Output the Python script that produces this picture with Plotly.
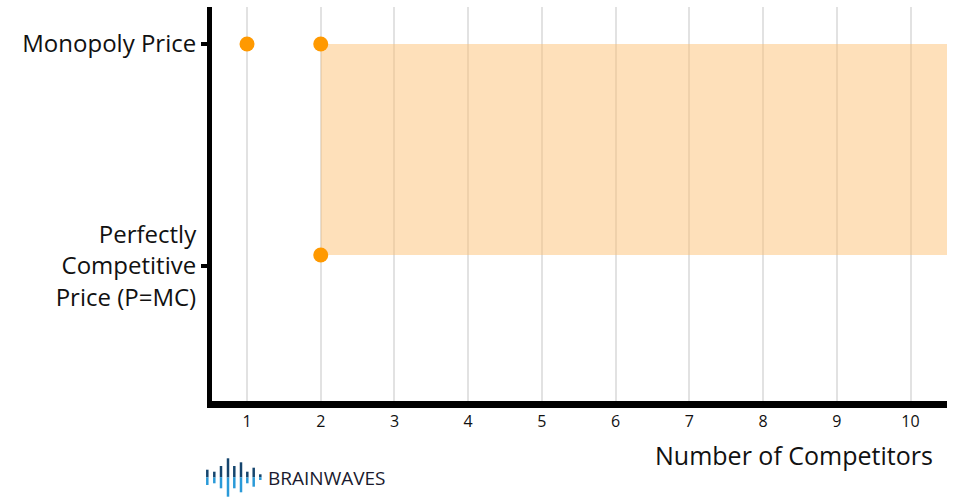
import plotly.graph_objects as go

# ---- data ----
price_levels = [0, 1]
price_labels = ["Perfectly<br>Competitive<br>Price (P=MC)", "Monopoly Price"]
competitor_ticks = [1, 2, 3, 4, 5, 6, 7, 8, 9, 10]
point_competitors = [1, 2, 2]
point_prices = [1, 1, 0.05]
band_competitors = [2, 10.5]
band_top = [1, 1]
band_bottom = [0.05, 0.05]

FONT = "Open Sans"
ORANGE = "#FF9900"

fig = go.Figure()
fig.add_trace(go.Scatter(x=band_competitors, y=band_bottom, mode="lines",
                         line=dict(width=0), hoverinfo="skip", showlegend=False))
fig.add_trace(go.Scatter(x=band_competitors, y=band_top, mode="lines",
                         line=dict(width=0), fill="tonexty",
                         fillcolor="rgba(253,190,110,0.48)", hoverinfo="skip",
                         showlegend=False))
fig.add_trace(go.Scatter(x=point_competitors, y=point_prices, mode="markers",
                         marker=dict(color=ORANGE, size=15), showlegend=False))

fig.update_xaxes(range=[0.525, 10.495], tickvals=competitor_ticks,
                 showgrid=True, gridcolor="#e2e2e2", gridwidth=1.5,
                 showline=True, linecolor="black", linewidth=7,
                 ticks="", zeroline=False,
                 tickfont=dict(family=FONT, size=16, color="#111111"))
fig.update_yaxes(range=[-0.608, 1.167], tickvals=price_levels, ticktext=price_labels,
                 showgrid=False, zeroline=False,
                 showline=True, linecolor="black", linewidth=5,
                 ticks="outside", ticklen=6, tickwidth=4, tickcolor="black",
                 ticklabelstandoff=0,
                 tickfont=dict(family=FONT, size=24, color="#111111"))

# logo bars (decorative)
logo_x = [207.3, 214.3, 221, 228, 234.3, 241, 247.3, 253.7, 260.3]
logo_top = [469.7, 471.7, 466, 458.3, 466, 462.3, 471.7, 467.7, 474.3]
logo_bot = [485, 483.3, 488.3, 496.7, 488.3, 492.3, 483.3, 486.7, 480]
W, H = 960, 502
for lx, lt, lb in zip(logo_x, logo_top, logo_bot):
    mid = (lt + lb) / 2
    fig.add_shape(type="line", xref="paper", yref="paper",
                  x0=(lx - 212) / 735, x1=(lx - 212) / 735,
                  y0=(401 - lt) / 394, y1=(401 - mid) / 394,
                  line=dict(color="#15456e", width=2.5))
    fig.add_shape(type="line", xref="paper", yref="paper",
                  x0=(lx - 212) / 735, x1=(lx - 212) / 735,
                  y0=(401 - mid) / 394, y1=(401 - lb) / 394,
                  line=dict(color="#2a9ad8", width=2.5))

fig.add_annotation(text="BRAINWAVES", xref="paper", yref="paper",
                   x=(266 - 212) / 735, y=(401 - 478) / 394,
                   xanchor="left", yanchor="middle", showarrow=False,
                   font=dict(family=FONT, size=19, color="#1a1a2e"))
fig.add_annotation(text="Number of Competitors", xref="paper", yref="paper",
                   x=(935 - 212) / 735, y=(401 - 455) / 394,
                   xanchor="right", yanchor="middle", showarrow=False,
                   font=dict(family=FONT, size=25, color="#111111"))

fig.update_layout(width=W, height=H, plot_bgcolor="white", paper_bgcolor="white",
                  margin=dict(l=212, r=13, t=7, b=101), showlegend=False)

fig.write_html("out.html", config={"displayModeBar": False},
               post_script="document.body.style.margin='0';document.body.style.overflow='hidden';")
